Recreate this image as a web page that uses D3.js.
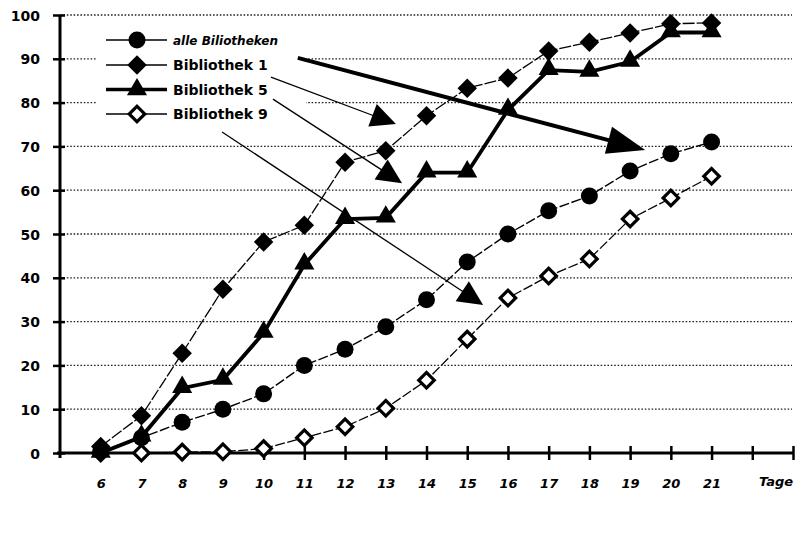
<!DOCTYPE html>
<html>
<head>
<meta charset="utf-8">
<script src="https://cdn.jsdelivr.net/npm/d3@7"></script>
<style>
  body { margin: 0; background: #fff; }
  text { font-family: "DejaVu Sans", Arial, sans-serif; font-weight: bold; fill: #000; }
</style>
</head>
<body>
<div id="chart"></div>
<script>
// Tage (days)
let days = [6, 7, 8, 9, 10, 11, 12, 13, 14, 15, 16, 17, 18, 19, 20, 21];
let yTicks = [0, 10, 20, 30, 40, 50, 60, 70, 80, 90, 100];

let alleBib = [0.5, 3.5, 7, 10, 13.5, 20, 23.7, 28.8, 35, 43.6, 50, 55.3, 58.7, 64.4, 68.3, 71];
let bib1 = [1.5, 8.5, 22.8, 37.4, 48.2, 52, 66.4, 69, 77, 83.3, 85.6, 91.8, 93.8, 95.9, 98, 98.2];
let bib5 = [0, 3.7, 14.8, 16.7, 27.4, 43, 53.4, 53.7, 64, 64, 78.3, 87.4, 87, 89.3, 96, 96];
let bib9 = [0, 0, 0.2, 0.3, 1, 3.5, 6, 10.2, 16.6, 26, 35.4, 40.4, 44.3, 53.4, 58.2, 63.2];

let seriesNames = ["alle Biliotheken", "Bibliothek 1", "Bibliothek 5", "Bibliothek 9"];

// annotation arrows, in data units: [fromDay, fromValue, toDay, toValue]
let arrows = [
  [10.84, 90.2, 19.37, 69.2],
  [10.18, 85.8, 13.25, 75.1],
  [10.23, 80.8, 13.40, 61.6],
  [8.98, 73.3, 15.39, 33.8]
];

let width = 810;
let height = 541;
let font = "DejaVu Sans, Arial, sans-serif";

let x = d3.scaleLinear().domain([5, 23]).range([60, 793]);
let y = d3.scaleLinear().domain([0, 100]).range([453, 15]);

let svg = d3.select("#chart")
    .append("svg")
    .attr("width", width)
    .attr("height", height);

// gridlines
svg.append("g")
    .selectAll("line")
    .data(yTicks.filter(d => d > 0))
    .enter().append("line")
    .attr("x1", x(5))
    .attr("x2", 792)
    .attr("y1", d => y(d))
    .attr("y2", d => y(d))
    .attr("stroke", "#222")
    .attr("stroke-width", 1.3)
    .attr("stroke-dasharray", "1.6,1.8");

// y axis
let yAxis = svg.append("g")
    .attr("transform", "translate(" + x(5) + ",0)")
    .call(d3.axisLeft(y).tickValues(yTicks).tickSize(7).tickPadding(13));
yAxis.select(".domain").attr("d", "M0," + (y(0) + 5) + "V" + y(100)).attr("stroke-width", 3);
yAxis.selectAll(".tick line").attr("x1", -7).attr("x2", 5).attr("stroke-width", 2.5);
yAxis.selectAll(".tick text")
    .attr("dy", "0.36em")
    .style("font-size", "14px")
    .style("font-family", font)
    .style("font-weight", "bold");

// x axis
let xTickVals = d3.range(6, 24);
let xAxis = svg.append("g")
    .attr("transform", "translate(0," + y(0) + ")")
    .call(d3.axisBottom(x).tickValues(xTickVals).tickSize(6).tickPadding(20)
        .tickFormat(d => days.indexOf(d) >= 0 ? d : ""));
xAxis.select(".domain").attr("d", "M" + (x(5) - 3) + ",0H" + x(23)).attr("stroke-width", 3);
xAxis.selectAll(".tick line").attr("y1", -7).attr("y2", 7).attr("stroke-width", 2.5);
xAxis.selectAll(".tick text")
    .style("font-size", "13px")
    .style("font-style", "italic")
    .style("font-family", font)
    .style("font-weight", "bold");

svg.append("text")
    .attr("x", 776)
    .attr("y", 486)
    .attr("text-anchor", "middle")
    .style("font-size", "13px")
    .style("font-style", "italic")
    .text("Tage");

// series
let line = d3.line()
    .x((d, i) => x(days[i]))
    .y(d => y(d));

let diamond = d3.symbol().type(d3.symbolSquare).size(190);
let tri = d3.symbol().type(d3.symbolTriangle).size(175);

function drawLine(vals, w, dash) {
    svg.append("path")
        .datum(vals)
        .attr("d", line)
        .attr("fill", "none")
        .attr("stroke", "#000")
        .attr("stroke-width", w)
        .attr("stroke-dasharray", dash);
}

drawLine(bib9, 1.3, "10,2.5");
drawLine(alleBib, 1.4, "10,2.5");
drawLine(bib1, 1.3, "12,2");
drawLine(bib5, 3.8, null);

svg.append("g").selectAll("path")
    .data(bib9)
    .enter().append("path")
    .attr("d", d3.symbol().type(d3.symbolSquare).size(120))
    .attr("transform", (d, i) => "translate(" + x(days[i]) + "," + y(d) + ") rotate(45)")
    .attr("fill", "#fff")
    .attr("stroke", "#000")
    .attr("stroke-width", 3.2);

svg.append("g").selectAll("circle")
    .data(alleBib)
    .enter().append("circle")
    .attr("cx", (d, i) => x(days[i]))
    .attr("cy", d => y(d))
    .attr("r", 8.5)
    .attr("fill", "#000");

svg.append("g").selectAll("path")
    .data(bib1)
    .enter().append("path")
    .attr("d", diamond)
    .attr("transform", (d, i) => "translate(" + x(days[i]) + "," + y(d) + ") rotate(45)")
    .attr("fill", "#000");

svg.append("g").selectAll("path")
    .data(bib5)
    .enter().append("path")
    .attr("d", tri)
    .attr("transform", (d, i) => "translate(" + x(days[i]) + "," + (y(d) - 1) + ")")
    .attr("fill", "#000");

// legend
let legend = svg.append("g");
legend.append("rect")
    .attr("x", 96).attr("y", 24)
    .attr("width", 210).attr("height", 104)
    .attr("fill", "#fff");

let legendG = legend.selectAll(".legend")
    .data(seriesNames)
    .enter().append("g")
    .attr("class", "legend")
    .attr("transform", (d, i) => "translate(0," + [40, 65, 89.5, 114][i] + ")");

legendG.append("line")
    .attr("x1", 106).attr("x2", 167)
    .attr("stroke", "#000")
    .attr("stroke-width", (d, i) => i === 2 ? 3.5 : 1.6);

legendG.each(function(d, i) {
    let g = d3.select(this);
    if (i === 0) {
        g.append("circle").attr("cx", 137).attr("r", 8.5).attr("fill", "#000");
    } else if (i === 1) {
        g.append("path").attr("d", diamond).attr("transform", "translate(137,0) rotate(45)").attr("fill", "#000");
    } else if (i === 2) {
        g.append("path").attr("d", tri).attr("transform", "translate(137,0)").attr("fill", "#000");
    } else {
        g.append("path").attr("d", d3.symbol().type(d3.symbolSquare).size(120))
            .attr("transform", "translate(137,0) rotate(45)")
            .attr("fill", "#fff").attr("stroke", "#000").attr("stroke-width", 3.2);
    }
});

legendG.append("text")
    .attr("x", 173)
    .attr("y", 5)
    .style("font-size", (d, i) => i === 0 ? "12px" : "14px")
    .style("font-style", (d, i) => i === 0 ? "italic" : "normal")
    .text(d => d);

// annotation arrows
arrows.forEach(function(a, i) {
    let x1 = x(a[0]), y1 = y(a[1]), x2 = x(a[2]), y2 = y(a[3]);
    let dx = x2 - x1, dy = y2 - y1;
    let len = Math.sqrt(dx * dx + dy * dy);
    let ux = dx / len, uy = dy / len;
    let hl = i === 0 ? 38 : 25;
    let hw = i === 0 ? 14 : 12;
    let bx = x2 - ux * hl, by = y2 - uy * hl;
    svg.append("line")
        .attr("x1", x1).attr("y1", y1)
        .attr("x2", bx + ux * 2).attr("y2", by + uy * 2)
        .attr("stroke", "#000")
        .attr("stroke-width", i === 0 ? 4 : 1.3);
    svg.append("path")
        .attr("d", "M" + x2 + "," + y2 +
            "L" + (bx - uy * hw) + "," + (by + ux * hw) +
            "L" + (bx + uy * hw) + "," + (by - ux * hw) + "Z")
        .attr("fill", "#000");
});
</script>
</body>
</html>
